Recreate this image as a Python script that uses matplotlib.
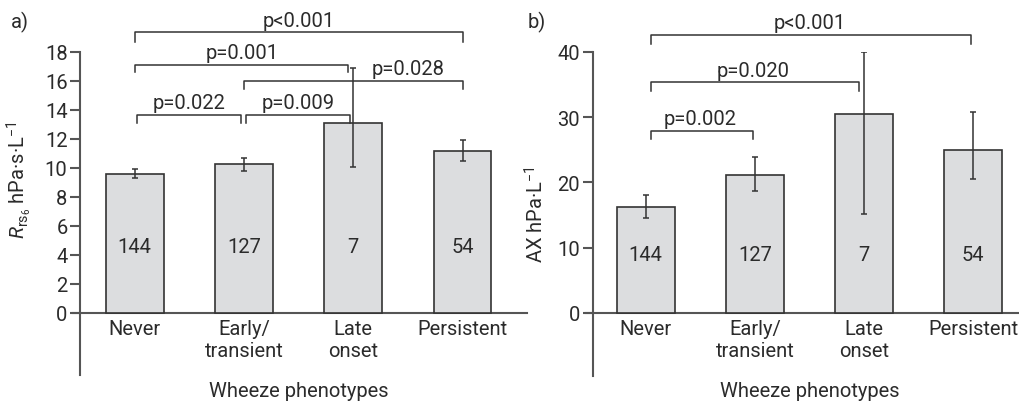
import matplotlib
matplotlib.use("Agg")
import matplotlib.pyplot as plt
import matplotlib.transforms as mtransforms

plt.rcParams['font.family'] = ['Roboto', 'DejaVu Sans']
plt.rcParams['mathtext.fontset'] = 'custom'
plt.rcParams['mathtext.rm'] = 'Roboto'
plt.rcParams['mathtext.it'] = 'Roboto:italic'

categories = ["Never", "Early/\ntransient", "Late\nonset", "Persistent"]
counts = ["144", "127", "7", "54"]

# Panel a: Rrs6
rrs_mean = [9.6, 10.25, 13.1, 11.15]
rrs_low = [9.3, 9.8, 10.1, 10.5]
rrs_high = [9.95, 10.7, 16.9, 11.9]
rrs_ticks = [0, 2, 4, 6, 8, 10, 12, 14, 16, 18]
# brackets: (left, right, top, leg bottom, label, label x)
rrs_brackets = [
    (0, 3, 19.36, 18.67, "p<0.001", 1.5),
    (0, 1.95, 17.1, 16.65, "p=0.001", 0.98),
    (1, 3, 16.02, 15.45, "p=0.028", 2.5),
    (0.02, 0.97, 13.68, 13.1, "p=0.022", 0.5),
    (1.02, 1.97, 13.68, 13.1, "p=0.009", 1.5),
]

# Panel b: AX
ax_mean = [16.3, 21.05, 30.5, 25.0]
ax_low = [14.6, 18.6, 15.2, 20.5]
ax_high = [18.0, 23.9, 40.0, 30.7]
ax_ticks = [0, 10, 20, 30, 40]
ax_brackets = [
    (0.05, 2.98, 42.6, 41.2, "p<0.001", 1.5),
    (0.05, 1.95, 35.3, 34.0, "p=0.020", 0.98),
    (0.05, 0.98, 27.9, 26.6, "p=0.002", 0.5),
]

TXT = "#2b2b2b"
AXC = "#555555"
BAR = "#dcdddf"
FS = 14.5

fig = plt.figure(figsize=(10.19, 4.06), dpi=100)
axA = fig.add_axes([80/1019, 30/406, (527-80)/1019, (376-53)/406])
axB = fig.add_axes([592.7/1019, 29.3/406, (1019-592.7)/1019, (376.7-52.7)/406])


def draw(ax, means, lows, highs, ticks, brackets, ylim, xlim, ylabel, count_y, lab_xy):
    x = list(range(len(means)))
    ax.bar(x, means, width=0.53, color=BAR, edgecolor="#333333", linewidth=1.2, zorder=2)
    yerr = [[m - l for m, l in zip(means, lows)], [h - m for m, h in zip(means, highs)]]
    ax.errorbar(x, means, yerr=yerr, fmt='none', ecolor="#333333", elinewidth=1.1,
                capsize=2.5, capthick=1.1, zorder=3)
    ax.set_xlim(*xlim)
    ax.set_ylim(*ylim)
    ax.axhline(0, color=AXC, lw=1.5, zorder=1, clip_on=False)
    ax.plot([xlim[0] - 0.065, xlim[0]], [0, 0], color=AXC, lw=1.5, clip_on=False)
    for s in ["top", "right", "bottom"]:
        ax.spines[s].set_visible(False)
    ax.spines["left"].set_color(AXC)
    ax.spines["left"].set_linewidth(1.5)
    ax.set_yticks(ticks)
    ax.set_yticklabels([str(t) for t in ticks])
    ax.tick_params(axis='y', length=7, width=1.5, color=AXC, labelsize=FS, labelcolor=TXT, pad=2)
    ax.set_xticks([])
    ax.set_ylabel(ylabel, fontsize=FS, color=TXT)
    ax.yaxis.set_label_coords(*lab_xy)
    trans = mtransforms.offset_copy(ax.transData, fig=fig, x=0, y=-4, units='points')
    for xi, lab in zip(x, categories):
        ax.text(xi, 0, lab, transform=trans, ha='center', va='top', fontsize=FS,
                color=TXT, linespacing=1.2)
    for xi, c in zip(x, counts):
        ax.text(xi, count_y, c, ha='center', va='center', fontsize=FS, color=TXT)
    ax.text(1.5, ylim[0], "Wheeze phenotypes", transform=mtransforms.offset_copy(
        ax.transData, fig=fig, x=0, y=-4, units='points'),
        ha='center', va='top', fontsize=FS, color=TXT)
    for (i, j, h, b, lab, lx) in brackets:
        ax.plot([i, i, j, j], [b, h, h, b], color="#333333", lw=1.1, clip_on=False)
        ax.text(lx, h, lab, transform=mtransforms.offset_copy(ax.transData, fig=fig, x=0, y=2, units='points'),
                ha='center', va='bottom', fontsize=FS, color=TXT, clip_on=False)
    return ax


draw(axA, rrs_mean, rrs_low, rrs_high, rrs_ticks, rrs_brackets, (-4.28, 18), (-0.5, 3.59),
     r"$R_{\mathrm{rs}_6}$ hPa·s·L$^{-1}$", 4.6, (-0.105, 0.607))
draw(axB, ax_mean, ax_low, ax_high, ax_ticks, ax_brackets, (-9.6, 40), (-0.486, 3.42),
     r"AX hPa·L$^{-1}$", 9.0, (-0.105, 0.5))

fig.text(20/1019, 1 - 22/406, "a)", ha='center', va='center', fontsize=FS, color=TXT)
fig.text(537/1019, 1 - 22/406, "b)", ha='center', va='center', fontsize=FS, color=TXT)

fig.savefig("out.png", dpi=100)
